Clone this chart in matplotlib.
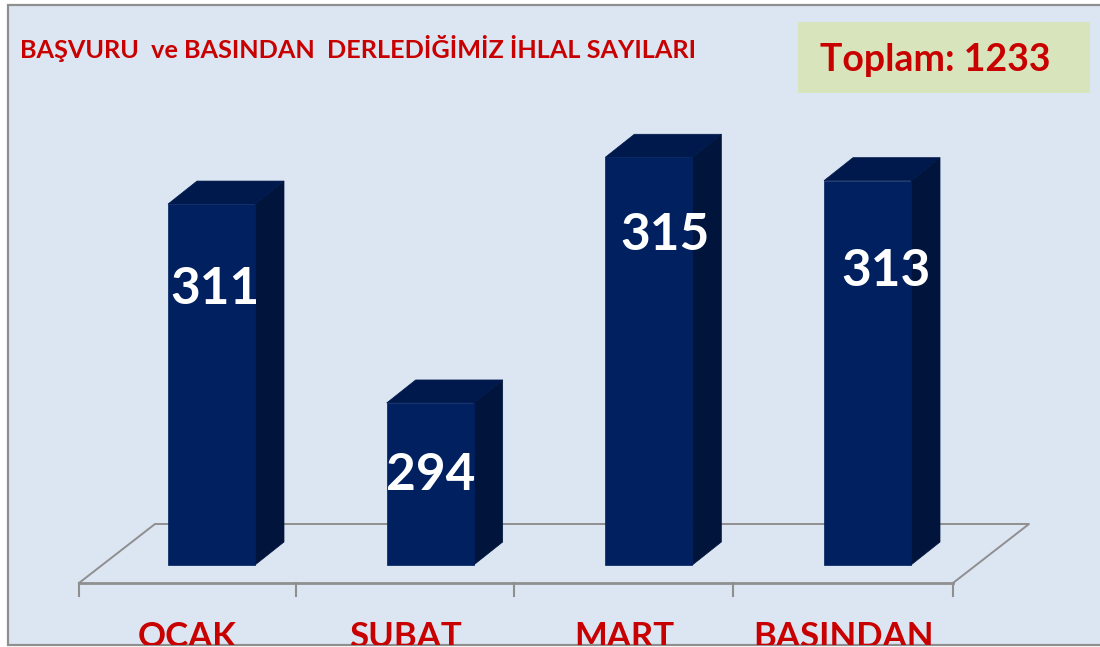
import matplotlib
matplotlib.use("Agg")
import matplotlib.pyplot as plt
from matplotlib.patches import Rectangle

categories = ['OCAK', 'SUBAT', 'MART', 'BASINDAN']
values = [311, 294, 315, 313]
title = 'BAŞVURU  ve BASINDAN  DERLEDİĞİMİZ İHLAL SAYILARI'
total_label = 'Toplam: 1233'

W, H = 1100, 647
BG = '#DCE6F2'
NAVY = '#002060'
TOP_COL = '#00194C'
SIDE_COL = '#00143C'
RED = '#C80000'
GREY = '#8F8F8F'

plt.rcParams['font.family'] = ['Lato', 'DejaVu Sans']

fig = plt.figure(figsize=(W / 100, H / 100), dpi=100, facecolor='white')

# pixel layer for the frame, floor and texts
back = fig.add_axes([0, 0, 1, 1])
back.set_xlim(0, W)
back.set_ylim(H, 0)
back.axis('off')
back.add_patch(Rectangle((8, 5), W, 640, facecolor=BG, edgecolor=GREY, lw=1.6))
back.add_patch(Rectangle((798, 22), 292, 71, facecolor='#D8E4BC', edgecolor='none'))

# floor of the 3d chart
back.plot([79, 155, 1029, 953], [583, 524, 524, 583], color=GREY, lw=1.4)
back.plot([79, 953], [583, 583], color=GREY, lw=2)
for tx in [79, 296, 514, 733, 953]:
    back.plot([tx, tx], [583, 596], color=GREY, lw=1.5)

back.text(20, 48, title, color=RED, fontsize=18.2, fontweight='bold', va='center', ha='left')
back.text(820, 60, total_label, color=RED, fontsize=27, fontweight='bold', va='center', ha='left')

# bars, y axis is cut at the floor (about 280)
base = 280.15
px_per_unit = 11.7
px_per_cat = 218.67
x0 = 211.5
ax = fig.add_axes([0, 0, 1, 1])
ax.patch.set_alpha(0)
ax.axis('off')
ax.set_xlim(-x0 / px_per_cat, (W - x0) / px_per_cat)
ax.set_ylim(base - (H - 565) / px_per_unit, base + 565 / px_per_unit)

xs = list(range(len(values)))
width = 87 / px_per_cat
dx = 29 / px_per_cat
dy = 23 / px_per_unit

for x, v in zip(xs, values):
    l, r = x - width / 2, x + width / 2
    ax.fill([r, r + dx, r + dx, r], [base, base + dy, v + dy, v],
            facecolor=SIDE_COL, edgecolor=SIDE_COL, lw=0.5)
    ax.fill([l, l + dx, r + dx, r], [v, v + dy, v + dy, v],
            facecolor=TOP_COL, edgecolor=TOP_COL, lw=0.5)
ax.bar(xs, [v - base for v in values], width=width, bottom=base,
       color=NAVY, edgecolor=NAVY, lw=0.5)

# value labels sit at slightly different spots on each bar
label_pos = [(215, 290), (431, 476), (665, 235), (886, 271)]
for (px, py), v in zip(label_pos, values):
    ax.text(px, py, str(v), color='white', fontsize=37, fontweight='bold',
            ha='center', va='center', transform=back.transData)

# category labels are cut off by the bottom border, same as the source image
clip = Rectangle((0, 0), W, 645, transform=back.transData)
for px, name in zip([187, 406, 624, 843], categories):
    t = ax.text(px, 637, name, color=RED, fontsize=25, fontweight='bold',
                ha='center', va='center', transform=back.transData)
    t.set_clip_path(clip)
    t.set_clip_on(True)

fig.savefig('out.png', dpi=100, facecolor='white')
